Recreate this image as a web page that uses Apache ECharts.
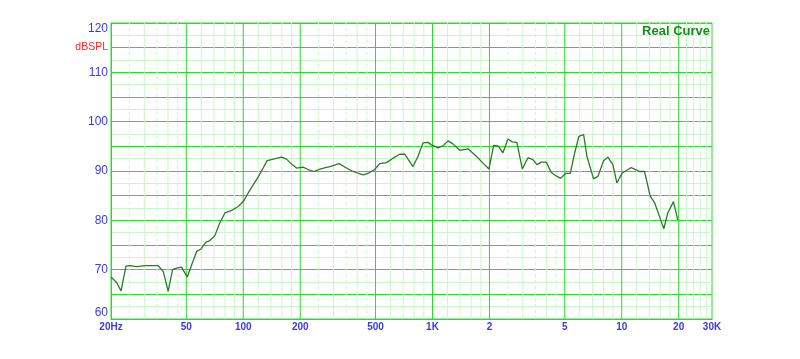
<!DOCTYPE html>
<html>
<head>
<meta charset="utf-8">
<script src="https://cdn.jsdelivr.net/npm/echarts@6/dist/echarts.min.js"></script>
<style>
html,body{margin:0;padding:0;background:#fff;}
#chart{width:800px;height:359px;}
</style>
</head>
<body>
<div id="chart"></div>
<script>
// Frequency response data (Hz, dB SPL)
var freqs = [20, 21.4, 22.6, 24.0, 25.2, 27.3, 30.2, 35.5, 37.8, 40.1, 42.3, 44.5, 47.2, 50.6, 53.4, 56.7, 59.8, 63.5, 66.6, 70.8, 75.2, 80, 86.8, 94, 100, 106, 112.8, 120, 127.4, 133.7, 143.9, 159.3, 169.3, 180, 191.2, 207, 220, 236, 259, 287, 321, 351, 380, 430, 456, 495, 526, 571, 619, 671, 713, 789, 839, 891, 947, 987, 1070, 1136, 1208, 1283, 1392, 1540, 1706, 1849, 1988, 2105, 2218, 2357, 2504, 2641, 2793, 2983, 3195, 3394, 3563, 3758, 3993, 4244, 4509, 4753, 5050, 5347, 5636, 5938, 6290, 6548, 7100, 7482, 8020, 8450, 8978, 9425, 10066, 11230, 12420, 13196, 14144, 14903, 15833, 16682, 17515, 18769, 19780];
var spl = [68.5, 67.4, 65.7, 70.7, 70.8, 70.6, 70.8, 70.8, 69.6, 65.6, 70.0, 70.3, 70.5, 68.5, 71.0, 73.7, 74.2, 75.6, 75.9, 76.9, 79.5, 81.5, 82.0, 82.8, 83.8, 85.5, 87.2, 88.8, 90.6, 92.1, 92.4, 92.8, 92.4, 91.4, 90.6, 90.8, 90.3, 89.9, 90.5, 90.9, 91.5, 90.6, 89.9, 89.2, 89.5, 90.3, 91.5, 91.7, 92.6, 93.4, 93.4, 90.9, 93.0, 95.7, 95.8, 95.3, 94.7, 95.1, 96.1, 95.5, 94.2, 94.5, 93.0, 91.6, 90.4, 95.2, 95.1, 93.7, 96.5, 95.9, 95.8, 90.4, 92.7, 92.3, 91.3, 91.8, 91.8, 89.7, 89.0, 88.5, 89.5, 89.5, 93.6, 97.0, 97.4, 93.0, 88.4, 88.9, 92.1, 92.8, 91.3, 87.6, 89.6, 90.7, 89.9, 89.9, 84.9, 83.6, 80.8, 78.3, 81.5, 83.8, 80.1];

// Axis tick labels
var xLabelFreqs = [20, 50, 100, 200, 500, 1000, 2000, 5000, 10000, 20000, 30000];
var xLabelTexts = ['20Hz', '50', '100', '200', '500', '1K', '2', '5', '10', '20', '30K'];
var yLabelValues = [60, 70, 80, 90, 100, 110, 120];

// Grid line frequencies
var majorFreqs = [50, 100, 200, 500, 1000, 2000, 5000, 10000, 20000];
var minorFreqs = [30, 40, 60, 70, 80, 90, 120, 140, 160, 180, 300, 400, 600, 700, 800, 900, 1200, 1400, 1600, 1800, 3000, 4000, 6000, 7000, 8000, 9000, 12000, 14000, 16000, 18000, 22000, 24000, 26000, 28000];
var dashedFreqs = [25, 35, 45, 250, 350, 450, 2500, 3500, 4500];

var BRIGHT = '#22e022';
var LIGHT = '#c9f7c9';
var BLUE = '#3838f0';
var FONT = '"Liberation Sans", Arial, sans-serif';
var Y_MIN = 60, Y_MAX = 120;

function lg(f) { return Math.log10(f); }

var curve = freqs.map(function (f, i) { return [lg(f), spl[i]]; });
var xLabelPos = xLabelFreqs.map(lg);

function gridSeries(list, color, type, z) {
  var data = [];
  list.forEach(function (f) {
    data.push([lg(f), Y_MIN], [lg(f), Y_MAX], [lg(f), '-']);
  });
  return {
    type: 'line',
    z: z,
    data: data,
    silent: true,
    showSymbol: false,
    symbol: 'none',
    connectNulls: false,
    clip: true,
    lineStyle: { color: color, width: 1, type: type },
    emphasis: { disabled: true }
  };
}

var labelMap = {};
xLabelFreqs.forEach(function (f, i) { labelMap[lg(f).toFixed(5)] = xLabelTexts[i]; });

var chart = echarts.init(document.getElementById('chart'), null, { renderer: 'canvas' });
chart.setOption({
  animation: false,
  backgroundColor: '#ffffff',
  title: {
    text: 'Real Curve',
    right: 90,
    top: 25,
    padding: 0,
    textStyle: { color: '#1a8a1a', fontSize: 13, fontWeight: 'bold', fontFamily: FONT }
  },
  grid: {
    left: 111, right: 88, top: 23, bottom: 40,
    show: true, borderColor: BRIGHT, borderWidth: 1, backgroundColor: 'transparent'
  },
  xAxis: {
    type: 'value',
    min: lg(20),
    max: lg(30000),
    axisLine: { show: true, lineStyle: { color: BRIGHT, width: 1 } },
    axisTick: { show: false, customValues: xLabelPos, lineStyle: { color: BRIGHT } },
    splitLine: { show: false, lineStyle: { color: BRIGHT, width: 1 } },
    splitArea: { show: false },
    minorTick: { show: false },
    minorSplitLine: { show: false },
    axisLabel: {
      customValues: xLabelPos,
      margin: 3,
      color: BLUE,
      fontSize: 10,
      fontWeight: 'bold',
      fontFamily: FONT,
      formatter: function (v) { return labelMap[v.toFixed(5)] || ''; }
    }
  },
  yAxis: {
    type: 'value',
    min: Y_MIN,
    max: Y_MAX,
    interval: 2.5,
    name: 'dBSPL',
    nameLocation: 'end',
    nameGap: -24,
    nameTextStyle: { color: '#ff2020', fontSize: 10.5, fontFamily: FONT, align: 'right', verticalAlign: 'middle', padding: [0, 3, 0, 0] },
    axisLine: { show: true, lineStyle: { color: BRIGHT, width: 1 } },
    axisTick: { show: false },
    splitArea: { show: false },
    splitLine: { show: true, lineStyle: { color: [BRIGHT, LIGHT], width: 1 } },
    axisLabel: {
      margin: 3,
      color: BLUE,
      fontSize: 12,
      fontFamily: FONT,
      verticalAlignMinLabel: 'bottom',
      verticalAlignMaxLabel: 'top',
      formatter: function (v) { return yLabelValues.indexOf(v) >= 0 ? String(v) : ''; }
    }
  },
  series: [
    gridSeries(minorFreqs, LIGHT, 'solid', 1),
    gridSeries(dashedFreqs, LIGHT, [3, 3], 1),
    gridSeries(majorFreqs, BRIGHT, 'solid', 2),
    {
      type: 'line',
      z: 4,
      data: curve,
      showSymbol: false,
      symbol: 'none',
      smooth: false,
      silent: true,
      lineStyle: { color: '#2f762f', width: 1.3 }
    }
  ]
});
</script>
</body>
</html>
